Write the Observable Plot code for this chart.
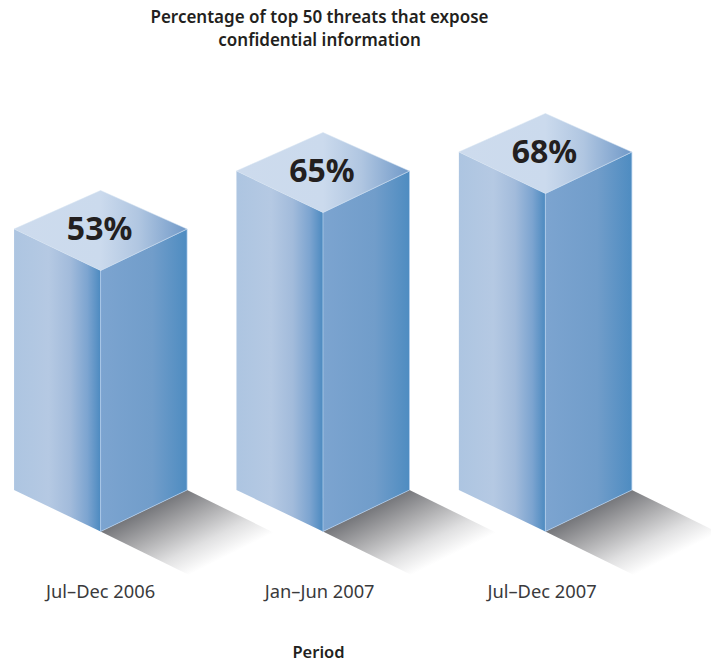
<!DOCTYPE html>
<html><head><meta charset="utf-8">
<script src="https://cdn.jsdelivr.net/npm/d3@7"></script>
<script src="https://cdn.jsdelivr.net/npm/@observablehq/plot@0.6"></script>
<style>
html,body{margin:0;padding:0;background:#fff;overflow:hidden}
svg{display:block}
#axisTitle{width:637px;height:19px;line-height:19px;margin-top:2px;text-align:center;font:600 16.5px/19px 'Noto Sans',sans-serif;color:#231f20}
</style></head><body><div id="chart"></div><div id="axisTitle"></div>
<script>
const periods = ["Jul–Dec 2006", "Jan–Jun 2007", "Jul–Dec 2007"];
const percents = [53, 65, 68];
// Drawn bar heights (the original is not strictly proportional)
const barHeights = [261, 319, 338];
const titleLines = ["Percentage of top 50 threats that expose", "confidential information"];
const axisTitle = "Period";

const halfWidth = 0.389, depth = 41.5, rise = 80, shadowX = 0.43, shadowY = 47;
const labelTicks = [0, 0.985, 1.985];
const FONT = "'Noto Sans', sans-serif";

const bars = periods.map((p, i) => ({i, h: barHeights[i], label: percents[i] + "%"}));
const poly = (f) => bars.flatMap(b => f(b).map(([x, y]) => ({bar: b.i, x, y})));
const close = (a) => [...a, a[0]];

const leftFace = poly(b => close([[b.i - halfWidth, depth], [b.i, 0], [b.i, b.h], [b.i - halfWidth, b.h + depth]]));
const rightFace = poly(b => close([[b.i, 0], [b.i + halfWidth, depth], [b.i + halfWidth, b.h + depth], [b.i, b.h]]));
const topFace = poly(b => close([[b.i, b.h], [b.i + halfWidth, b.h + depth], [b.i, b.h + rise], [b.i - halfWidth, b.h + depth]]));
const shadow = poly(b => [[b.i, 0], [b.i + halfWidth, depth], [b.i + halfWidth + shadowX, depth - shadowY], [b.i + shadowX, -shadowY]]);

const grad = (id, attrs, stops) =>
  `<linearGradient id="${id}" ${attrs}>` + stops.map(([o, c]) => `<stop offset="${o}" stop-color="${c}"/>`).join("") + `</linearGradient>`;

const defs = () => {
  const g = document.createElementNS("http://www.w3.org/2000/svg", "defs");
  g.innerHTML =
    grad("leftG", 'x1="0" x2="1" y1="0" y2="0"', [[0, "#adc5e1"], [0.4, "#b5c9e3"], [0.65, "#a2bbdb"], [0.85, "#7ca4d0"], [1, "#4c8ac0"]]) +
    grad("rightG", 'x1="0" x2="1" y1="0" y2="0"', [[0, "#7ca4d0"], [0.6, "#719dca"], [1, "#4e8cc1"]]) +
    grad("topG", 'x1="0" x2="1" y1="0" y2="0"', [[0, "#cddbed"], [0.5, "#cbdaed"], [0.72, "#b0c6e1"], [1, "#7099c8"]]) +
    grad("shadowG", 'x1="0.25" y1="0.233" x2="0.777" y2="0.745"', [[0, "#77787c"], [0.3, "#a8a8aa"], [0.65, "#e0e0e1"], [0.92, "#ffffff"]]);
  return g;
};

const chart = Plot.plot({
  width: 711, height: 640,
  marginLeft: 0, marginRight: 0, marginTop: 0, marginBottom: 56,
  style: {background: "#fff", fontFamily: FONT, overflow: "hidden"},
  x: {domain: [-0.45, 2.747], range: [0, 711], axis: null},
  y: {domain: [0, 531], range: [531, 0], axis: null},
  marks: [
    defs,
    Plot.line(shadow, {x: "x", y: "y", z: "bar", fill: "url(#shadowG)", stroke: "none"}),
    Plot.line(leftFace, {x: "x", y: "y", z: "bar", fill: "url(#leftG)", stroke: "none"}),
    Plot.line(rightFace, {x: "x", y: "y", z: "bar", fill: "url(#rightG)", stroke: "#b4d0ee", strokeWidth: 0.7}),
    Plot.line(topFace, {x: "x", y: "y", z: "bar", fill: "url(#topG)", stroke: "#d5e2f1", strokeWidth: 0.5}),
    Plot.text(bars, {x: "i", y: d => d.h + depth, dx: -1, dy: 1, text: "label", fontSize: 32, fontWeight: 700, fill: "#231f20", fontFamily: FONT}),
    Plot.axisX({ticks: labelTicks, tickFormat: (v) => periods[labelTicks.indexOf(v)], tickSize: 0, tickPadding: 0, fontSize: 18.3, label: null, color: "#3a3a3c", fontFamily: FONT}),
    Plot.text([titleLines[0]], {frameAnchor: "top", dx: -36.5, dy: 17, lineAnchor: "middle", text: d => d, fontSize: 17, fontWeight: 600, fill: "#231f20", fontFamily: FONT}),
    Plot.text([titleLines[1]], {frameAnchor: "top", dx: -36.5, dy: 40, lineAnchor: "middle", text: d => d, fontSize: 17, fontWeight: 600, fill: "#231f20", fontFamily: FONT})
  ]
});
document.getElementById("chart").appendChild(chart);
document.getElementById("axisTitle").textContent = axisTitle;
</script></body></html>
